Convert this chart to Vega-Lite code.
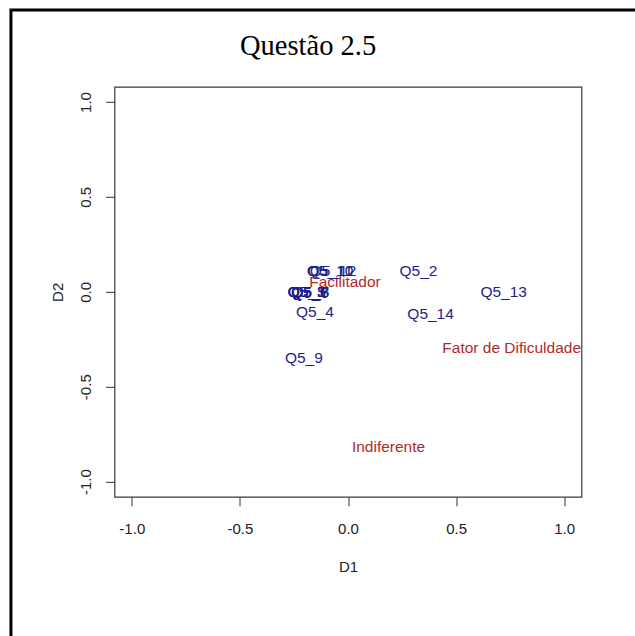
{
  "$schema": "https://vega.github.io/schema/vega-lite/v6.json",
  "width": 467,
  "height": 410,
  "autosize": {"type": "none"},
  "padding": {"left": 114.5, "top": 86.8, "right": 53.5, "bottom": 139.2},
  "background": "white",
  "title": {
    "text": "Questão 2.5",
    "font": "Liberation Serif",
    "fontSize": 28.5,
    "fontWeight": "normal",
    "color": "#000000",
    "anchor": "start",
    "frame": "group",
    "baseline": "alphabetic",
    "offset": 0,
    "dx": 125.5,
    "dy": 75.5
  },
  "config": {
    "view": {"stroke": "#3a3a3a", "strokeWidth": 1.2},
    "axis": {
      "domain": false,
      "grid": false,
      "tickSize": 9,
      "tickColor": "#333333",
      "tickWidth": 1,
      "labelFont": "Liberation Sans",
      "labelFontSize": 15,
      "labelColor": "#222222",
      "titleFont": "Liberation Sans",
      "titleFontSize": 15,
      "titleFontWeight": "normal",
      "titleColor": "#222222"
    }
  },
  "datasets": {
    "pontos": [
      {"rotulo": "Q5_1", "D1": -0.192, "D2": -0.003, "tipo": "questão"},
      {"rotulo": "Q5_3", "D1": -0.192, "D2": -0.002, "tipo": "questão"},
      {"rotulo": "Q5_5", "D1": -0.19, "D2": 0.0, "tipo": "questão"},
      {"rotulo": "Q5_6", "D1": -0.176, "D2": -0.004, "tipo": "questão"},
      {"rotulo": "Q5_7", "D1": -0.175, "D2": -0.001, "tipo": "questão"},
      {"rotulo": "Q5_8", "D1": -0.174, "D2": -0.003, "tipo": "questão"},
      {"rotulo": "Q5_10", "D1": -0.083, "D2": 0.112, "tipo": "questão"},
      {"rotulo": "Q5_11", "D1": -0.082, "D2": 0.110, "tipo": "questão"},
      {"rotulo": "Q5_12", "D1": -0.069, "D2": 0.111, "tipo": "questão"},
      {"rotulo": "Q5_2", "D1": 0.326, "D2": 0.11, "tipo": "questão"},
      {"rotulo": "Q5_13", "D1": 0.72, "D2": 0.0, "tipo": "questão"},
      {"rotulo": "Q5_14", "D1": 0.382, "D2": -0.116, "tipo": "questão"},
      {"rotulo": "Q5_4", "D1": -0.153, "D2": -0.105, "tipo": "questão"},
      {"rotulo": "Q5_9", "D1": -0.204, "D2": -0.347, "tipo": "questão"},
      {"rotulo": "Facilitador", "D1": -0.014, "D2": 0.053, "tipo": "fator"},
      {"rotulo": "Fator de Dificuldade", "D1": 0.757, "D2": -0.295, "tipo": "fator"},
      {"rotulo": "Indiferente", "D1": 0.1875, "D2": -0.816, "tipo": "fator"}
    ],
    "moldura": [
      {"x0": -1.559, "x1": 1.397, "y0": 1.485, "y1": -1.887}
    ]
  },
  "layer": [
    {
      "data": {"name": "moldura"},
      "mark": {"type": "rect", "fill": null, "stroke": "#000000", "strokeWidth": 3, "clip": false},
      "encoding": {
        "x": {"field": "x0", "type": "quantitative", "scale": {"domain": [-1.08, 1.08], "nice": false, "zero": false}},
        "x2": {"field": "x1"},
        "y": {"field": "y0", "type": "quantitative", "scale": {"domain": [-1.08, 1.08], "nice": false, "zero": false}},
        "y2": {"field": "y1"}
      }
    },
    {
      "data": {"name": "pontos"},
      "mark": {"type": "text", "font": "Liberation Sans", "fontSize": 15.5, "align": "center", "baseline": "middle", "clip": true},
      "encoding": {
        "x": {
          "field": "D1",
          "type": "quantitative",
          "scale": {"domain": [-1.08, 1.08], "nice": false, "zero": false},
          "axis": {
            "title": "D1",
            "values": [-1, -0.5, 0, 0.5, 1],
            "labelExpr": "datum.value < 0 ? '-' + format(-datum.value, '.1f') : format(datum.value, '.1f')",
            "labelPadding": 16,
            "titlePadding": 23
          }
        },
        "y": {
          "field": "D2",
          "type": "quantitative",
          "scale": {"domain": [-1.08, 1.08], "nice": false, "zero": false},
          "axis": {
            "title": "D2",
            "values": [-1, -0.5, 0, 0.5, 1],
            "labelExpr": "datum.value < 0 ? '-' + format(-datum.value, '.1f') : format(datum.value, '.1f')",
            "labelAngle": -90,
            "labelAlign": "center",
            "labelBaseline": "bottom",
            "labelPadding": 12,
            "titlePadding": 13
          }
        },
        "text": {"field": "rotulo"},
        "color": {
          "field": "tipo",
          "type": "nominal",
          "scale": {"domain": ["questão", "fator"], "range": ["#1e1e8a", "#b02a2a"]},
          "legend": null
        }
      }
    }
  ]
}
